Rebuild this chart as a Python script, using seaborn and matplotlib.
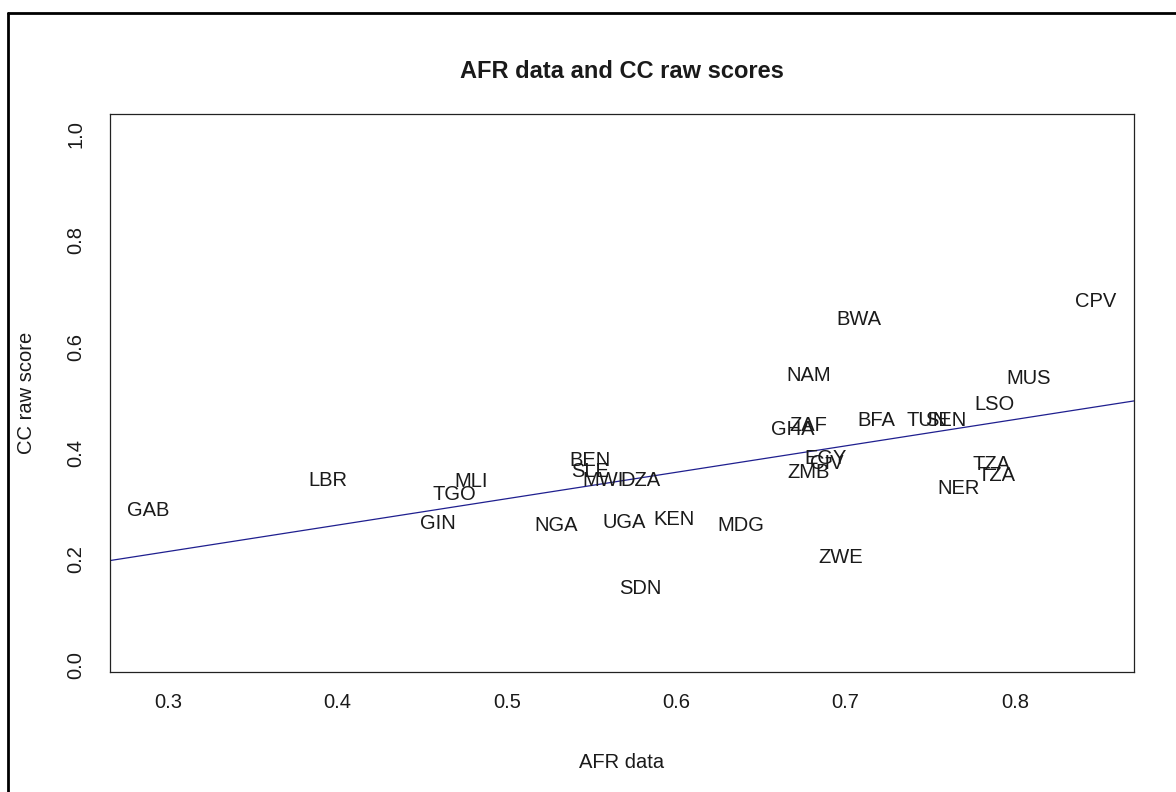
import matplotlib
matplotlib.use("Agg")
import matplotlib.pyplot as plt
from matplotlib.lines import Line2D
import numpy as np
import pandas as pd
import seaborn as sns

# Country codes with their AFR data values and CC raw scores
countries = ["GAB", "LBR", "MLI", "TGO", "GIN", "NGA", "BEN", "SLE", "MWI", "DZA",
             "UGA", "KEN", "SDN", "MDG", "GHA", "ZAF", "NAM", "BWA", "ZMB", "EGY",
             "CIV", "ZWE", "BFA", "TUN", "SEN", "LSO", "MUS", "CPV", "NER", "TZA",
             "TZA"]
afr_data = [0.288, 0.394, 0.479, 0.469, 0.459, 0.529, 0.549, 0.549, 0.557, 0.579,
            0.569, 0.599, 0.579, 0.638, 0.669, 0.678, 0.678, 0.708, 0.678, 0.688,
            0.689, 0.697, 0.718, 0.748, 0.759, 0.788, 0.808, 0.848, 0.767, 0.786,
            0.789]
cc_raw = [0.292, 0.348, 0.345, 0.322, 0.266, 0.262, 0.386, 0.365, 0.347, 0.347,
          0.269, 0.275, 0.145, 0.262, 0.444, 0.452, 0.546, 0.650, 0.362, 0.390,
          0.379, 0.203, 0.461, 0.461, 0.460, 0.490, 0.540, 0.684, 0.333, 0.377,
          0.358]

x_ticks = [0.3, 0.4, 0.5, 0.6, 0.7, 0.8]
y_ticks = [0.0, 0.2, 0.4, 0.6, 0.8, 1.0]

df = pd.DataFrame({"country": countries, "afr": afr_data, "cc": cc_raw})

sns.set_theme(style="white")
plt.rcParams["font.family"] = ["Liberation Sans", "DejaVu Sans"]
text_color = "#1a1a1a"

W, H = 1176, 792
fig = plt.figure(figsize=(W / 100, H / 100), dpi=100)
fig.patch.set_facecolor("white")

# plot region in pixel terms: left 110, right 1134, top 114, bottom 672
ax = fig.add_axes([110 / W, 1 - 672 / H, (1134 - 110) / W, (672 - 114) / H])
ax.set_facecolor("white")

# data ranges padded the way base R does it
xr = max(afr_data) - min(afr_data)
ax.set_xlim(min(afr_data) - 0.04 * xr, max(afr_data) + 0.04 * xr)
ax.set_ylim(-0.013, 1.038)

# least-squares line spanning the full x range
sns.regplot(data=df, x="afr", y="cc", ax=ax, scatter=False, ci=None,
            truncate=False, line_kws={"color": "#1f1f8f", "linewidth": 0.9})

# country codes drawn at their data positions
for name, xv, yv in zip(countries, afr_data, cc_raw):
    ax.text(xv, yv, name, ha="center", va="center", fontsize=14.5,
            color=text_color)

for side in ["top", "right", "bottom", "left"]:
    ax.spines[side].set_visible(True)
    ax.spines[side].set_color("#222222")
    ax.spines[side].set_linewidth(0.9)

ax.set_xticks(x_ticks)
ax.set_xticklabels([f"{v:.1f}" for v in x_ticks])
ax.set_yticks(y_ticks)
ax.set_yticklabels([f"{v:.1f}" for v in y_ticks], rotation=90, va="center")
ax.tick_params(axis="both", direction="out", length=8, width=0.8,
               colors="#222222", labelsize=14.5, labelcolor=text_color)
ax.tick_params(axis="x", pad=7)
ax.tick_params(axis="y", pad=10)
ax.grid(False)

ax.set_xlabel("AFR data", fontsize=14.5, color=text_color)
ax.set_ylabel("CC raw score", fontsize=14.5, color=text_color)
ax.xaxis.label.set_va("center")
ax.yaxis.label.set_va("center")
ax.xaxis.set_label_coords(0.5, (672 - 763) / (672 - 114))
ax.yaxis.set_label_coords((26 - 110) / (1134 - 110), 0.5)

ax.text(0.5, (672 - 71) / (672 - 114), "AFR data and CC raw scores",
        transform=ax.transAxes, ha="center", va="center", fontsize=17,
        fontweight="bold", color=text_color)

# outer frame around the graphics device
fig.add_artist(Line2D([8 / W, 8 / W], [0, 1 - 13 / H], transform=fig.transFigure,
                      color="black", linewidth=2))
fig.add_artist(Line2D([8 / W, 1], [1 - 13 / H, 1 - 13 / H], transform=fig.transFigure,
                      color="black", linewidth=2))

fig.savefig("out.png", dpi=100, facecolor="white")
